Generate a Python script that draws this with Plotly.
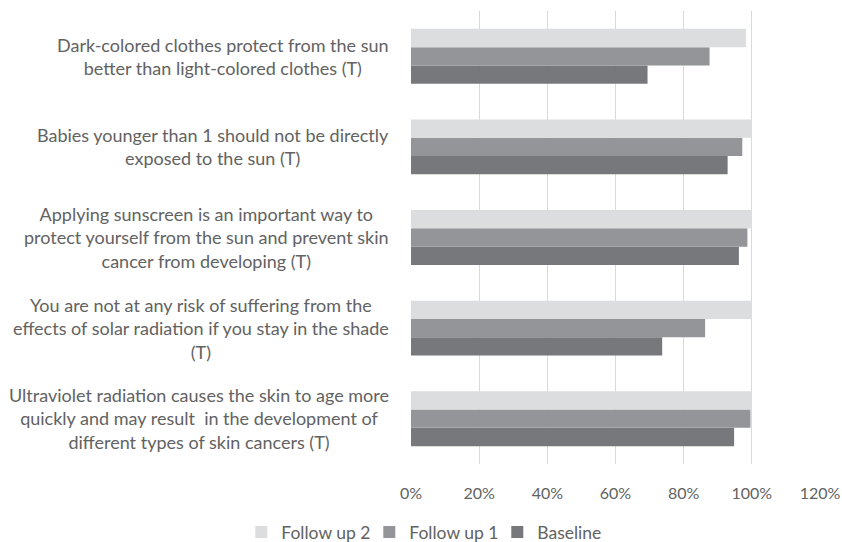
import plotly.graph_objects as go

categories = [
    "Ultraviolet radiation causes the skin to age more<br>quickly and may result  in the development of<br>different types of skin cancers (T)",
    "You are not at any risk of suffering from the<br>effects of solar radiation if you stay in the shade<br>(T)",
    "Applying sunscreen is an important way to<br>protect yourself from the sun and prevent skin<br>cancer from developing (T)",
    "Babies younger than 1 should not be directly<br>exposed to the sun (T)",
    "Dark-colored clothes protect from the sun<br>better than light-colored clothes (T)",
]
baseline = [0.948, 0.737, 0.962, 0.929, 0.694]
follow_up_1 = [0.996, 0.863, 0.987, 0.972, 0.876]
follow_up_2 = [1.0, 1.0, 1.0, 1.0, 0.983]

series = [
    ("Baseline", baseline, "#77787B"),
    ("Follow up 1", follow_up_1, "#939598"),
    ("Follow up 2", follow_up_2, "#DCDDDF"),
]

FONT = "Lato"
TXT = "#626262"

fig = go.Figure()
for name, vals, col in series:
    fig.add_trace(go.Bar(
        y=categories, x=vals, name=name, orientation="h",
        marker=dict(color=col, line=dict(width=0)),
    ))

for c in categories:
    fig.add_annotation(
        x=0, xref="paper", y=c, yref="y", text=c, showarrow=False,
        xanchor="right", yanchor="middle", align="center", xshift=-20,
        font=dict(family=FONT, size=18, color=TXT),
    )

fig.update_layout(
    width=842, height=542,
    margin=dict(l=411, r=22, t=11, b=78, autoexpand=False),
    paper_bgcolor="white", plot_bgcolor="white",
    barmode="group", bargap=0.394, bargroupgap=0,
    font=dict(family=FONT, size=16, color=TXT),
    showlegend=True,
    legend=dict(
        orientation="h", traceorder="reversed",
        xref="container", yref="container",
        x=0.5146, xanchor="center", y=0.0515, yanchor="top",
        font=dict(family=FONT, size=17.5, color=TXT),
        itemwidth=30, entrywidth=83, entrywidthmode="pixels",
    ),
    xaxis=dict(
        range=[0, 1.2], tickvals=[0, 0.2, 0.4, 0.6, 0.8, 1.0, 1.2],
        tickformat=".0%", showgrid=True, gridcolor="#D9D9D9", gridwidth=1,
        zeroline=False, showline=False, ticks="", ticklabelstandoff=18,
        tickfont=dict(family=FONT, size=16, color=TXT),
    ),
    yaxis=dict(
        showticklabels=False, showgrid=False, zeroline=False,
        showline=False, ticks="",
    ),
)

fig.write_html("out.html")
